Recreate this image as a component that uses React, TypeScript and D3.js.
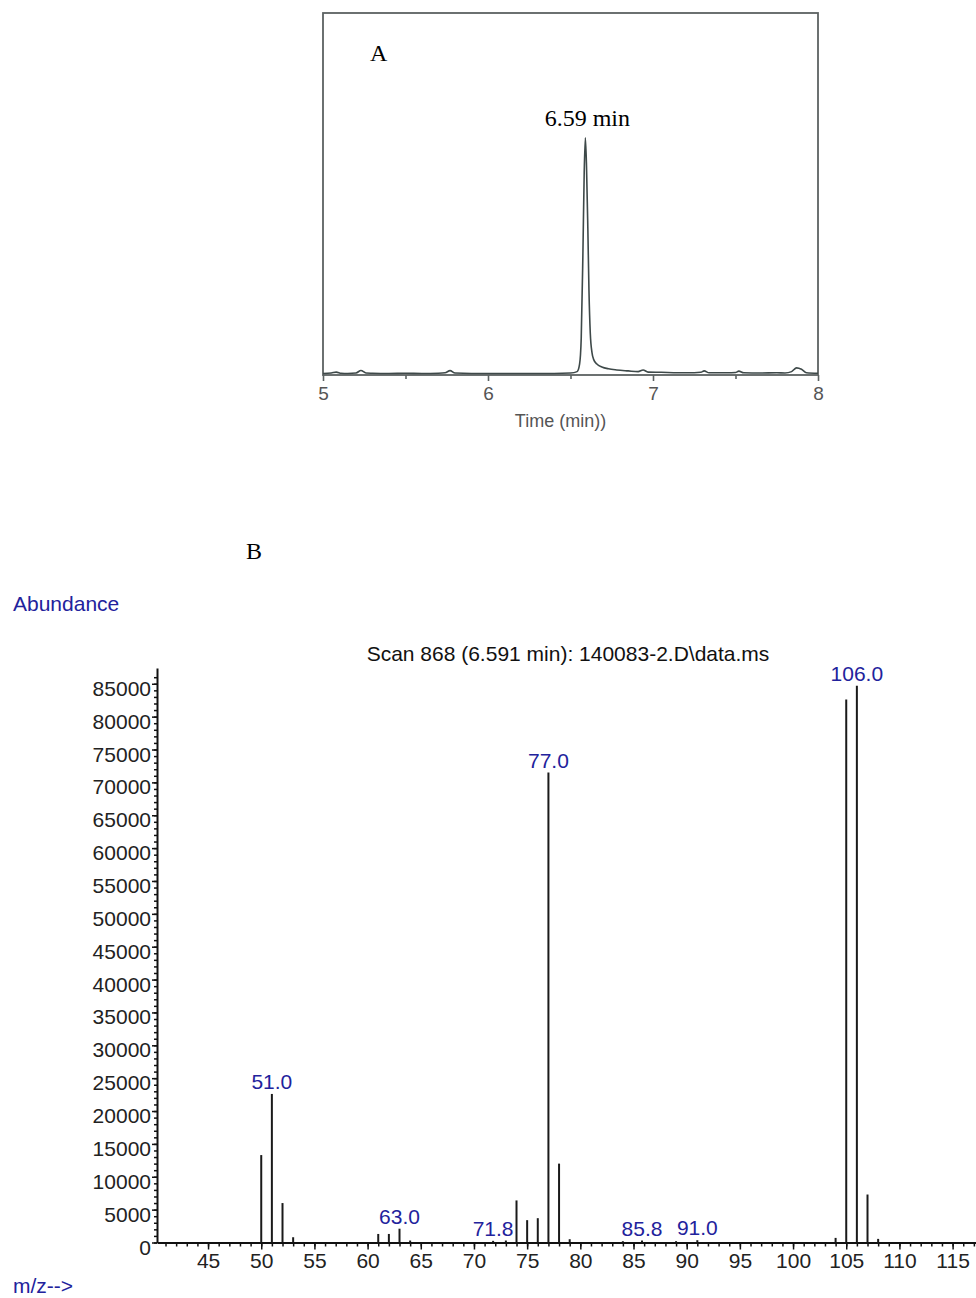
import React, { useRef, useEffect } from 'react';
import * as d3 from 'd3';

const width = 976;
const height = 1298;

// panel A: chromatogram (time in min, relative intensity)
const TIMES = [5.0, 5.05, 5.08, 5.11, 5.15, 5.2, 5.23, 5.26, 5.3, 5.4, 5.5, 5.6, 5.7, 5.74, 5.77, 5.8, 5.9, 6.0, 6.1, 6.2, 6.3, 6.4, 6.5, 6.54, 6.555, 6.565, 6.575, 6.583, 6.59, 6.597, 6.605, 6.612, 6.62, 6.63, 6.64, 6.66, 6.69, 6.73, 6.78, 6.85, 6.91, 6.94, 6.97, 7.05, 7.15, 7.25, 7.29, 7.31, 7.34, 7.45, 7.5, 7.52, 7.55, 7.65, 7.75, 7.8, 7.84, 7.87, 7.9, 7.93, 8.0];
const INTENSITY = [0, 0.2, 0.6, 0.1, 0, 0.2, 1.3, 0.2, 0.1, 0, 0.1, 0, 0.1, 0.3, 1.2, 0.2, 0, 0, 0, 0, 0, 0, 0.2, 0.8, 4, 15, 50, 85, 100, 88, 62, 35, 17, 9, 6, 4, 2.8, 2, 1.5, 1.1, 0.8, 1.5, 0.6, 0.5, 0.3, 0.3, 0.5, 1.1, 0.3, 0.3, 0.4, 1.0, 0.3, 0.2, 0.3, 0.2, 0.8, 2.4, 1.8, 0.3, 0.1];
const TIME_TICKS = [5, 6, 7, 8];
const TIME_MINOR = [5.5, 6.5, 7.5];

// panel B: mass spectrum
const MZ = [50, 51, 52, 53, 61, 62, 63, 64, 71.8, 73, 74, 75, 76, 77, 78, 79, 84, 85.8, 89, 91, 104, 105, 106, 107, 108];
const ABUNDANCE = [13300, 22600, 6000, 800, 1300, 1300, 2100, 300, 250, 300, 6400, 3400, 3700, 71500, 12000, 500, 200, 300, 200, 350, 700, 82600, 84700, 7300, 550];
const PEAK_LABELS = [51, 63, 71.8, 77, 85.8, 91, 106];
const MZ_TICKS = d3.range(45, 116, 5);
const MZ_MINOR = d3.range(41, 118, 1);
const AB_TICKS = d3.range(0, 85001, 5000);
const AB_MINOR = d3.range(0, 86001, 1000);

const xTop = d3.scaleLinear().domain([5, 8]).range([323, 818]);
const yTop = d3.scaleLinear().domain([0, 153]).range([373.5, 13]);

const xB = d3.scaleLinear().domain([40.2, 117.2]).range([157, 976]);
const yB = d3.scaleLinear().domain([0, 87400]).range([1242.5, 668]);

const msFont = '"Liberation Sans", Arial, sans-serif';
const serifFont = '"Liberation Serif", "Times New Roman", serif';
const blue = '#22229c';

function drawTop(g) {
  const sel = d3.select(g);
  sel.selectAll('*').remove();

  sel.append('rect')
    .attr('x', xTop(5)).attr('y', yTop(153))
    .attr('width', xTop(8) - xTop(5)).attr('height', 375 - yTop(153))
    .attr('fill', 'none').attr('stroke', '#5c6262').attr('stroke-width', 1.8);

  const line = d3.line()
    .x((d, i) => xTop(TIMES[i]))
    .y(d => yTop(d))
    .curve(d3.curveMonotoneX);

  sel.append('path')
    .attr('d', line(INTENSITY))
    .attr('fill', 'none')
    .attr('stroke', '#3e4949')
    .attr('stroke-width', 1.6);

  const ax = sel.append('g')
    .attr('transform', 'translate(0,375)')
    .call(d3.axisBottom(xTop).tickValues(TIME_TICKS).tickSize(6).tickSizeOuter(0).tickPadding(6).tickFormat(d3.format('d')));
  ax.select('.domain').remove();
  ax.selectAll('line').attr('stroke', '#5c6262').attr('stroke-width', 1.6);
  ax.selectAll('text').attr('font-size', 19).attr('font-family', msFont).attr('fill', '#555');

  const axm = sel.append('g')
    .attr('transform', 'translate(0,375)')
    .call(d3.axisBottom(xTop).tickValues(TIME_MINOR).tickSize(4).tickFormat(''));
  axm.select('.domain').remove();
  axm.selectAll('line').attr('stroke', '#5c6262').attr('stroke-width', 1.6);

  sel.append('text')
    .attr('x', (xTop(5) + xTop(8)) / 2 - 10).attr('y', 427)
    .attr('text-anchor', 'middle')
    .attr('font-family', msFont).attr('font-size', 18).attr('fill', '#555')
    .text('Time (min))');

  sel.append('text')
    .attr('x', 370).attr('y', 61)
    .attr('font-family', serifFont).attr('font-size', 24)
    .text('A');

  sel.append('text')
    .attr('x', xTop(6.59) + 2).attr('y', 126)
    .attr('text-anchor', 'middle')
    .attr('font-family', serifFont).attr('font-size', 24)
    .text('6.59 min');
}

function drawBottom(g) {
  const sel = d3.select(g);
  sel.selectAll('*').remove();

  sel.append('text')
    .attr('x', 246).attr('y', 559)
    .attr('font-family', serifFont).attr('font-size', 24)
    .text('B');

  sel.append('text')
    .attr('x', 13).attr('y', 611)
    .attr('font-family', msFont).attr('font-size', 21).attr('fill', blue)
    .text('Abundance');

  sel.append('text')
    .attr('x', 568).attr('y', 661)
    .attr('text-anchor', 'middle')
    .attr('font-family', msFont).attr('font-size', 21).attr('fill', '#111')
    .text('Scan 868 (6.591 min): 140083-2.D\\data.ms');

  sel.append('text')
    .attr('x', 13).attr('y', 1293)
    .attr('font-family', msFont).attr('font-size', 21).attr('fill', blue)
    .text('m/z-->');

  // y axis
  const ya = sel.append('g')
    .attr('transform', `translate(${xB(40.2)},0)`)
    .call(d3.axisLeft(yB).tickValues(AB_TICKS).tickSize(5).tickSizeOuter(0).tickPadding(1).tickFormat(d3.format('d')));
  ya.select('.domain').attr('stroke', '#111').attr('stroke-width', 2);
  ya.selectAll('line').attr('stroke', '#111').attr('stroke-width', 1.5);
  ya.selectAll('text')
    .attr('font-size', 21).attr('font-family', msFont).attr('fill', '#222')
    .attr('dy', '0.55em');

  const yam = sel.append('g')
    .attr('transform', `translate(${xB(40.2)},0)`)
    .call(d3.axisLeft(yB).tickValues(AB_MINOR).tickSize(3).tickFormat(''));
  yam.select('.domain').remove();
  yam.selectAll('line').attr('stroke', '#111').attr('stroke-width', 1.5);

  // x axis
  const xa = sel.append('g')
    .attr('transform', `translate(0,${yB(0)})`)
    .call(d3.axisBottom(xB).tickValues(MZ_TICKS).tickSize(7).tickSizeOuter(0).tickPadding(4));
  xa.select('.domain').attr('stroke', '#111').attr('stroke-width', 2);
  xa.selectAll('line').attr('stroke', '#111').attr('stroke-width', 1.5);
  xa.selectAll('text').attr('font-size', 21).attr('font-family', msFont).attr('fill', '#222');

  const xam = sel.append('g')
    .attr('transform', `translate(0,${yB(0)})`)
    .call(d3.axisBottom(xB).tickValues(MZ_MINOR).tickSize(4).tickFormat(''));
  xam.select('.domain').remove();
  xam.selectAll('line').attr('stroke', '#111').attr('stroke-width', 1.5);

  // spectrum bars
  sel.selectAll('line.bar')
    .data(MZ)
    .join('line')
    .attr('class', 'bar')
    .attr('x1', d => xB(d)).attr('x2', d => xB(d))
    .attr('y1', yB(0))
    .attr('y2', (d, i) => yB(ABUNDANCE[i]))
    .attr('stroke', '#1a1a1a')
    .attr('stroke-width', 2);

  sel.selectAll('text.peak')
    .data(PEAK_LABELS)
    .join('text')
    .attr('class', 'peak')
    .attr('x', d => xB(d))
    .attr('y', d => yB(ABUNDANCE[MZ.indexOf(d)]) - 5)
    .attr('text-anchor', 'middle')
    .attr('font-family', msFont).attr('font-size', 21).attr('fill', blue)
    .text(d => d.toFixed(1));
}

const App = () => {
  const topRef = useRef(null);
  const bottomRef = useRef(null);

  useEffect(() => {
    if (topRef.current) drawTop(topRef.current);
    if (bottomRef.current) drawBottom(bottomRef.current);
  }, []);

  return (
    <svg
      width={width}
      height={height}
      viewBox={`0 0 ${width} ${height}`}
      style={{ position: 'absolute', left: 0, top: 0, background: '#fff' }}
    >
      <g ref={topRef}></g>
      <g ref={bottomRef}></g>
    </svg>
  );
};

export default App;
